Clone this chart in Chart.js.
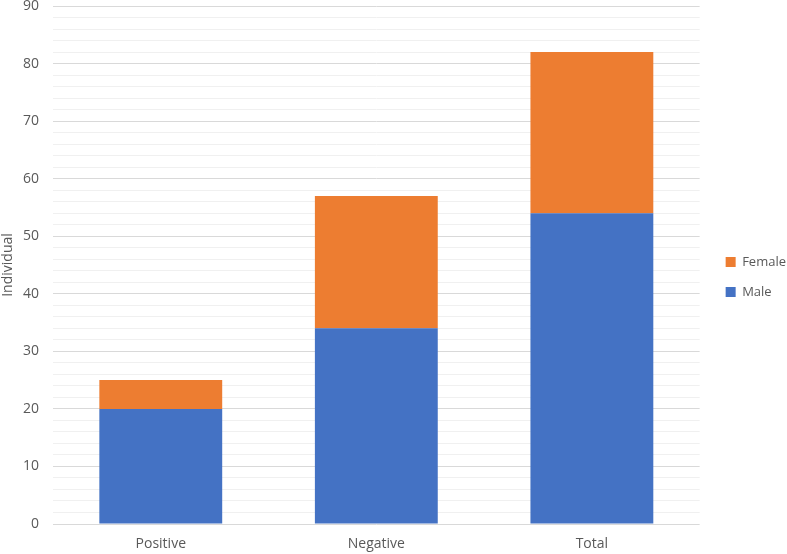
<!DOCTYPE html>
<html>
<head>
<meta charset="utf-8">
<script src="https://cdn.jsdelivr.net/npm/chart.js@4"></script>
<style>
  html, body { margin: 0; padding: 0; background: #fff; }
  #wrap { width: 787px; height: 554px; }
</style>
</head>
<body>
<div id="wrap"><canvas id="chart"></canvas></div>
<script>
// Chart data
const categories = ['Positive', 'Negative', 'Total'];
const maleValues = [20, 34, 54];
const femaleValues = [5, 23, 28];
const yMax = 90;

// keep legend narrow and pushed a bit right of the plot area
const legendFix = {
    id: 'legendFix',
    beforeLayout: function(chart) {
        const lg = chart.legend;
        if (lg && !lg._patched) {
            lg._patched = true;
            lg.afterFit = function() { this.width = 89; };
        }
    },
    afterLayout: function(chart) {
        const lg = chart.legend;
        if (lg) {
            lg.left += 9; lg.right += 9;
            lg.top -= 3; lg.bottom -= 3;
        }
    }
};

const ctx = document.getElementById('chart').getContext('2d');
new Chart(ctx, {
    type: 'bar',
    data: {
        labels: categories,
        datasets: [
            {
                label: 'Male',
                data: maleValues,
                backgroundColor: '#4472C4',
                categoryPercentage: 1,
                barPercentage: 0.57
            },
            {
                label: 'Female',
                data: femaleValues,
                backgroundColor: '#ED7D31',
                categoryPercentage: 1,
                barPercentage: 0.57
            }
        ]
    },
    plugins: [legendFix],
    options: {
        responsive: true,
        maintainAspectRatio: false,
        animation: false,
        layout: { padding: { top: 6, right: 0, bottom: 0, left: 0 } },
        plugins: {
            legend: {
                position: 'right',
                reverse: true,
                labels: {
                    boxWidth: 10,
                    boxHeight: 10,
                    padding: 17,
                    color: '#595959',
                    font: { family: 'Open Sans', size: 13 }
                }
            },
            tooltip: { enabled: false }
        },
        scales: {
            x: {
                stacked: true,
                grid: { display: false, drawTicks: false },
                border: { display: false },
                afterFit: function(scale) { scale.height = 30; },
                ticks: { color: '#595959', padding: 12, font: { family: 'Open Sans', size: 14 } }
            },
            y: {
                stacked: true,
                min: 0,
                max: yMax,
                border: { display: false },
                afterFit: function(scale) { scale.width = 53; scale.paddingTop = 0; scale.paddingBottom = 0; },
                grid: {
                    color: function(c) {
                        return c.tick && c.tick.value % 10 === 0 ? '#d9d9d9' : '#f0f0f0';
                    },
                    drawTicks: false
                },
                ticks: {
                    stepSize: 2,
                    autoSkip: false,
                    padding: 14,
                    color: '#595959',
                    font: { family: 'Open Sans', size: 14 },
                    callback: function(v) { return v % 10 === 0 ? v : ''; }
                },
                title: {
                    display: true,
                    text: 'Individual',
                    padding: 0,
                    color: '#595959',
                    font: { family: 'Open Sans', size: 14 }
                }
            }
        }
    }
});
</script>
</body>
</html>
